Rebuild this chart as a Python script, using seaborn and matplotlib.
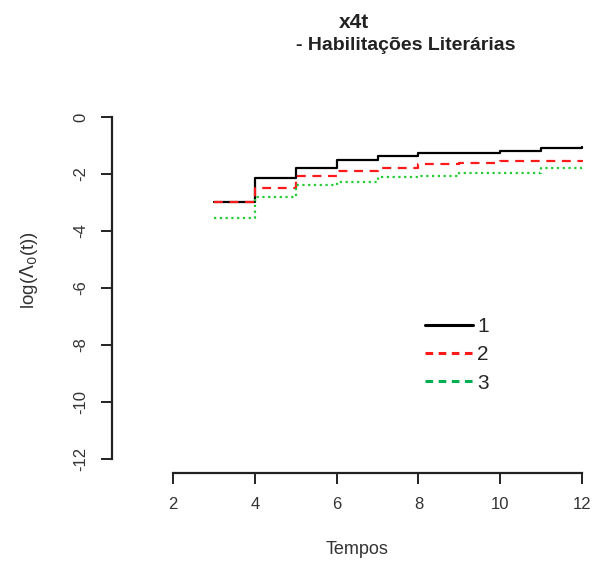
import matplotlib
matplotlib.use("Agg")
import matplotlib.pyplot as plt
import seaborn as sns
import pandas as pd
from matplotlib.lines import Line2D

# Data
t1 = [3, 4, 5, 6, 7, 8, 10, 11, 12]
v1 = [-2.97, -2.15, -1.80, -1.51, -1.37, -1.25, -1.18, -1.10, -1.07]
t2 = [3, 4, 5, 6, 7, 8, 9, 10, 12]
v2 = [-2.97, -2.50, -2.06, -1.89, -1.78, -1.66, -1.60, -1.53, -1.50]
t3 = [3, 4, 5, 6, 7, 8, 9, 11, 12]
v3 = [-3.56, -2.80, -2.39, -2.27, -2.09, -2.06, -1.98, -1.78, -1.78]
groups = ["1", "2", "3"]
xticks = [2, 4, 6, 8, 10, 12]
yticks = [0, -2, -4, -6, -8, -10, -12]

sns.set_theme(style="white")
plt.rcParams["font.family"] = ["Liberation Sans", "DejaVu Sans"]

fig = plt.figure(figsize=(5.94, 5.61), dpi=100)
W, H = 594, 561
# axes from x=112..594, y=105..473 (pixels)
ax = fig.add_axes([112 / W, 1 - 473 / H, (594 - 112) / W, (473 - 105) / H])

colors = ["black", "#ff1a1a", "#22cc33"]
dashes = [(None, None), (4, 3), (1, 1.6)]
for g, t, v, c, d in zip(groups, [t1, t2, t3], [v1, v2, v3], colors, dashes):
    df = pd.DataFrame({"t": t, "v": v})
    kw = {}
    if d[0] is not None:
        kw["dashes"] = d
    sns.lineplot(data=df, x="t", y="v", ax=ax, color=c, lw=1.6,
                 drawstyle="steps-post", **kw)

ax.set_xlim(0.509, 12.29)
ax.set_ylim(-12.49, 0.42)
for s in ["top", "right"]:
    ax.spines[s].set_visible(False)
ax.spines["left"].set_bounds(-12, 0)
ax.spines["bottom"].set_bounds(2, 12)
for s in ["left", "bottom"]:
    ax.spines[s].set_color("#222222")
    ax.spines[s].set_linewidth(1.6)
ax.set_xticks(xticks)
ax.set_yticks(yticks)
ax.set_xticklabels([str(x) for x in xticks])
ax.set_yticklabels([str(y) for y in yticks], rotation=90, va="center")
ax.tick_params(axis="both", direction="out", length=8, width=1.4, color="#222222",
               labelsize=12, left=True, bottom=True, labelcolor="#333333")
ax.tick_params(axis="x", pad=9)
ax.tick_params(axis="y", pad=9)
ax.set_xlabel("Tempos", fontsize=13, color="#333333")
ax.set_ylabel(r"log($\Lambda_0$(t))", fontsize=13.5, color="#333333")
ax.xaxis.set_label_coords((357 - 112) / 482, (473 - 541) / 368)
ax.yaxis.set_label_coords((40 - 112) / 482, (473 - 270) / 368)
ax.grid(False)

handles = [Line2D([], [], color="black", lw=2.2),
           Line2D([], [], color="#ff1a1a", lw=2.2, dashes=(2.5, 1.8)),
           Line2D([], [], color="#00b050", lw=2.2, dashes=(2.5, 1.8))]
leg = ax.legend(handles, groups, loc="upper left", bbox_to_anchor=(0.611, 0.475),
                frameon=False, fontsize=15, handlelength=2.3, handletextpad=0.2,
                labelspacing=0.45)

fig.text(354 / W, 1 - 22 / H, "x4t", ha="center", va="center",
         fontsize=15, fontweight="bold", color="#222222")
fig.text(405.5 / W, 1 - 46 / H, "- Habilitações Literárias", ha="center", va="center",
         fontsize=14, fontweight="bold", color="#222222")

fig.savefig("out.png", dpi=100)
